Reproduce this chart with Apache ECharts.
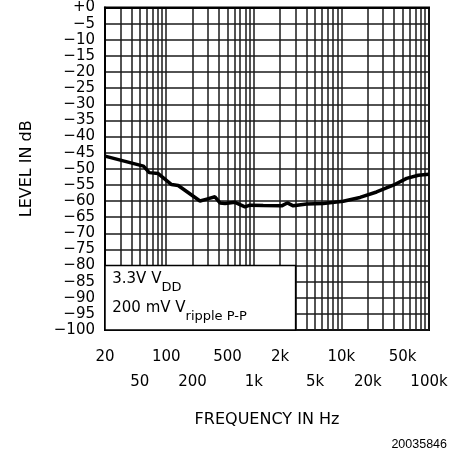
<!DOCTYPE html>
<html>
<head>
<meta charset="utf-8">
<script src="https://cdn.jsdelivr.net/npm/echarts@6/dist/echarts.min.js"></script>
<style>html,body{margin:0;padding:0;background:#fff}#c{width:459px;height:455px}</style>
</head>
<body>
<div id="c"></div>
<script>
// ---- data ----
const freqHz = [20, 55, 64, 81, 115, 137, 243, 290, 360, 411, 470, 610, 793, 904, 1280, 2080, 2410, 2820, 4010, 6200, 10500, 16300, 25200, 39100, 55600, 75500, 100000];
const levelDb = [-46.1, -49.2, -51.2, -51.5, -54.9, -55.2, -60.0, -59.4, -58.7, -60.6, -60.8, -60.4, -61.8, -61.3, -61.4, -61.5, -60.6, -61.5, -60.9, -60.8, -60.1, -58.9, -57.2, -55.1, -53.0, -52.0, -51.7];
const xLabelsRow1 = [20, 100, 500, 2000, 10000, 50000];
const xLabelsRow2 = [50, 200, 1000, 5000, 20000, 100000];
const gridFreqs = [];
for (let d = 10; d <= 10000; d *= 10) {
  for (let k = 1; k <= 9; k++) {
    const f = k * d;
    if (f >= 20 && f <= 100000) gridFreqs.push(f);
  }
}
gridFreqs.push(100000);
const legendBox = { fMin: 20, fMax: 3000, dbTop: -80, dbBottom: -100 };

const FONT = 'DejaVu Sans';
function fmtFreq(v) {
  const f = Math.round(v);
  if (f >= 1000) return (f / 1000) + 'k';
  return String(f);
}

const chart = echarts.init(document.getElementById('c'), null, { renderer: 'canvas' });
const lineColor = '#1a1a1a';
chart.setOption({
  backgroundColor: '#fff',
  animation: false,
  grid: { left: 105, right: 30, top: 7, bottom: 125, show: true, borderColor: '#000', borderWidth: 2, backgroundColor: 'transparent' },
  xAxis: [
    {
      type: 'log', logBase: 10, min: 20, max: 100000, position: 'bottom',
      name: 'FREQUENCY IN Hz', nameLocation: 'middle', nameGap: 82,
      nameTextStyle: { fontFamily: FONT, fontSize: 16, color: '#000' },
      axisLine: { show: true, lineStyle: { color: '#000', width: 2 } },
      axisTick: { show: false, customValues: gridFreqs },
      splitLine: { show: true, lineStyle: { color: lineColor, width: 1.5 } },
      axisLabel: { customValues: xLabelsRow1, formatter: fmtFreq, margin: 20, fontFamily: FONT, fontSize: 15, color: '#000' }
    },
    {
      type: 'log', logBase: 10, min: 20, max: 100000, position: 'bottom', offset: 25,
      axisLine: { show: false },
      axisTick: { show: false, customValues: xLabelsRow2 },
      splitLine: { show: false },
      axisLabel: { customValues: xLabelsRow2, formatter: fmtFreq, margin: 20, fontFamily: FONT, fontSize: 15, color: '#000' }
    }
  ],
  yAxis: {
    type: 'value', min: -100, max: 0, interval: 5,
    name: 'LEVEL IN dB', nameLocation: 'middle', nameGap: 70, nameRotate: 90,
    nameTextStyle: { fontFamily: FONT, fontSize: 16, color: '#000' },
    axisLine: { show: true, lineStyle: { color: '#000', width: 2 } },
    axisTick: { show: false },
    splitLine: { show: true, lineStyle: { color: lineColor, width: 1.5 } },
    axisLabel: {
      margin: 10, fontFamily: FONT, fontSize: 15, color: '#000',
      formatter: v => v === 0 ? '+0' : String(v).replace('-', '\u2212')
    }
  },
  series: [{
    type: 'line',
    xAxisIndex: 0,
    data: freqHz.map((f, i) => [f, levelDb[i]]),
    showSymbol: false,
    lineStyle: { color: '#000', width: 3.5 },
    z: 3,
    markArea: {
      silent: true,
      itemStyle: { color: '#fff', borderColor: '#000', borderWidth: 1.5 },
      label: {
        show: true, position: 'insideTopLeft', distance: 0, padding: [0, 0, 0, 8],
        formatter: '{m|3.3V V}{s|DD}\n{m|200 mV V}{s|ripple P-P}',
        rich: {
          m: { fontFamily: FONT, fontSize: 15, color: '#000', lineHeight: 29 },
          s: { fontFamily: FONT, fontSize: 13, color: '#000', lineHeight: 29, padding: [16, 0, 0, 0] }
        }
      },
      data: [[{ coord: [legendBox.fMin, legendBox.dbTop] }, { coord: [legendBox.fMax, legendBox.dbBottom] }]]
    }
  }],
  graphic: [{
    type: 'text', right: 12, top: 438,
    style: { text: '20035846', fontFamily: 'Liberation Sans', fontSize: 12.5, fill: '#000' }
  }]
});
</script>
</body>
</html>
